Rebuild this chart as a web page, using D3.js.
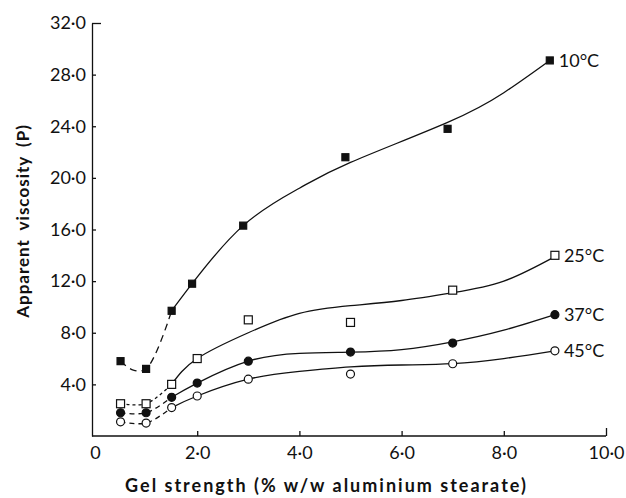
<!DOCTYPE html>
<html>
<head>
<meta charset="utf-8">
<script src="https://cdn.jsdelivr.net/npm/d3@7"></script>
<style>
    body { margin: 0; background: #fff; }
    text { font-family: Lato, "Open Sans", sans-serif; fill: #111; }
</style>
</head>
<body>
<div id="chart"></div>
<script>
// measured points (x = % w/w aluminium stearate, y = apparent viscosity P)
const gelX = [0.5, 1.0, 1.5, 1.9, 2.9, 4.9, 6.9, 8.9];
const gelX2 = [0.5, 1.0, 1.5, 2.0, 3.0, 5.0, 7.0, 9.0];
const visc10 = [5.8, 5.2, 9.7, 11.8, 16.3, 21.6, 23.8, 29.1];
const visc25 = [2.5, 2.5, 4.0, 6.0, 9.0, 8.8, 11.3, 14.0];
const visc37 = [1.8, 1.8, 3.0, 4.1, 5.8, 6.5, 7.2, 9.4];
const visc45 = [1.1, 1.0, 2.2, 3.1, 4.4, 4.8, 5.6, 6.6];

// hand drawn curves
const curve10 = [[0.5, 5.8], [0.75, 5.1], [1.0, 5.2], [1.5, 9.7], [1.9, 11.8], [2.9, 16.3], [4.0, 19.2], [5.0, 21.2], [6.9, 24.3], [8.0, 26.6], [8.9, 29.1]];
const curve25 = [[0.5, 2.5], [1.0, 2.5], [1.5, 4.0], [2.0, 6.0], [3.0, 8.0], [4.0, 9.5], [5.0, 10.1], [6.0, 10.5], [7.0, 11.1], [8.0, 12.0], [9.0, 13.9]];
const curve37 = [[0.5, 1.8], [1.0, 1.8], [1.5, 3.0], [2.0, 4.1], [3.0, 5.8], [4.0, 6.4], [5.0, 6.5], [6.0, 6.7], [7.0, 7.3], [8.0, 8.2], [9.0, 9.4]];
const curve45 = [[0.5, 1.1], [1.0, 1.0], [1.5, 2.2], [2.0, 3.1], [3.0, 4.4], [4.0, 5.0], [5.0, 5.35], [6.0, 5.5], [7.0, 5.6], [8.0, 6.0], [9.0, 6.6]];

const dashEnd = 1.5; // curves are dashed below this x
const xTicks = [0, 2, 4, 6, 8, 10];
const yTicks = [4, 8, 12, 16, 20, 24, 28, 32];

const series = [
    {label: "10°C", xs: gelX, ys: visc10, curve: curve10, marker: "square", filled: true, dash: "7,5"},
    {label: "25°C", xs: gelX2, ys: visc25, curve: curve25, marker: "square", filled: false, dash: "3,3"},
    {label: "37°C", xs: gelX2, ys: visc37, curve: curve37, marker: "circle", filled: true, dash: "5,4"},
    {label: "45°C", xs: gelX2, ys: visc45, curve: curve45, marker: "circle", filled: false, dash: "5,4"}
];

const margin = {top: 23, right: 20, bottom: 62, left: 95},
    width = 626 - margin.left - margin.right,
    height = 498 - margin.top - margin.bottom;

const fmt = d => d === 0 ? "0" : d.toFixed(1).replace(".", "·");

const svg = d3.select("#chart")
    .append("svg")
    .attr("width", 626)
    .attr("height", 498)
    .append("g")
    .attr("transform", "translate(" + margin.left + "," + margin.top + ")");

const x = d3.scaleLinear().domain([0, 10]).range([0, width]);
const y = d3.scaleLinear().domain([0, 32]).range([height, 0]);

// axes, ticks point inwards
const xAxis = d3.axisBottom(x).tickValues(xTicks).tickFormat(fmt)
    .tickSize(-5).tickSizeOuter(0).tickPadding(10);
const yAxis = d3.axisLeft(y).tickValues(yTicks).tickFormat(fmt)
    .tickSize(-4).tickSizeOuter(0).tickPadding(6);

const gx = svg.append("g")
    .attr("transform", "translate(0," + height + ")")
    .call(xAxis);
gx.select(".domain").attr("d", "M-3,0H" + width);
gx.selectAll(".tick").filter(d => d === 10).select("line").attr("y2", -8);
gx.selectAll(".tick").filter(d => d === 0).select("line").remove();

const gy = svg.append("g")
    .attr("transform", "translate(-3,0)")
    .call(yAxis);
gy.selectAll(".tick").filter(d => d === 32).select("line").attr("x2", 9);

svg.selectAll(".domain, .tick line").attr("stroke", "#111").attr("stroke-width", 1.3);
svg.selectAll(".tick text").style("font-size", "18px").attr("fill", "#111");

// axis titles
svg.append("text")
    .attr("x", 326.5 - margin.left)
    .attr("y", height + 56)
    .attr("text-anchor", "middle")
    .style("font-size", "18px")
    .style("font-weight", "bold")
    .style("letter-spacing", "2px")
    .text("Gel strength (% w/w aluminium stearate)");

svg.append("text")
    .attr("transform", "translate(" + (-66) + "," + (221 - margin.top) + ") rotate(-90)")
    .attr("text-anchor", "middle")
    .style("font-size", "17px")
    .style("font-weight", "bold")
    .style("letter-spacing", "1px")
    .style("word-spacing", "4px")
    .text("Apparent viscosity (P)");

const dashedLine = d3.line()
    .x(d => x(d[0]))
    .y(d => y(d[1]))
    .curve(d3.curveCatmullRom.alpha(0.5));

const solidLine = d3.line()
    .x(d => x(d[0]))
    .y(d => y(d[1]))
    .curve(d3.curveNatural);

series.forEach(s => {
    const low = s.curve.filter(p => p[0] <= dashEnd),
        high = s.curve.filter(p => p[0] >= dashEnd);

    svg.append("path")
        .datum(low)
        .attr("d", dashedLine)
        .attr("fill", "none")
        .attr("stroke", "#111")
        .attr("stroke-width", 1.3)
        .attr("stroke-dasharray", s.dash);

    svg.append("path")
        .datum(high)
        .attr("d", solidLine)
        .attr("fill", "none")
        .attr("stroke", "#111")
        .attr("stroke-width", 1.3);

    const pts = s.xs.map((v, i) => ({x: v, y: s.ys[i]}));
    const g = svg.append("g");
    if (s.marker === "square") {
        const sz = s.filled ? 7 : 8;
        g.selectAll("rect")
            .data(pts)
            .enter().append("rect")
            .attr("x", d => x(d.x) - sz / 2)
            .attr("y", d => y(d.y) - sz / 2)
            .attr("width", sz)
            .attr("height", sz)
            .attr("fill", s.filled ? "#111" : "#fff")
            .attr("stroke", "#111")
            .attr("stroke-width", 1.2);
    } else {
        g.selectAll("circle")
            .data(pts)
            .enter().append("circle")
            .attr("cx", d => x(d.x))
            .attr("cy", d => y(d.y))
            .attr("r", 4)
            .attr("fill", s.filled ? "#111" : "#fff")
            .attr("stroke", "#111")
            .attr("stroke-width", 1.2);
    }

    const last = pts[pts.length - 1];
    svg.append("text")
        .attr("x", x(last.x) + 9)
        .attr("y", y(last.y))
        .attr("dy", "0.36em")
        .style("font-size", "18px")
        .text(s.label);
});
</script>
</body>
</html>
